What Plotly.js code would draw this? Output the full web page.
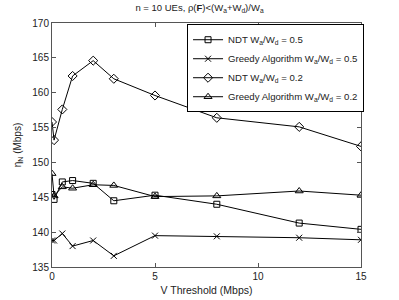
<!DOCTYPE html>
<html><head><meta charset="utf-8">
<script src="https://cdn.plot.ly/plotly-3.0.1.min.js"></script>
<style>html,body{margin:0;padding:0;background:#fff}#c{width:399px;height:300px}</style>
</head><body><div id="c"></div>
<script>
var vThreshold = [0, 0.1, 0.5, 1, 2, 3, 5, 8, 12, 15];
var ndt05 = [145.4, 144.7, 147.2, 147.4, 147.0, 144.5, 145.3, 144.0, 141.3, 140.4];
var greedy05 = [138.8, 138.8, 139.8, 138.0, 138.8, 136.6, 139.5, 139.4, 139.2, 138.9];
var ndt02 = [155.8, 153.2, 157.6, 162.4, 164.6, 162.0, 159.6, 156.4, 155.1, 152.3];
var greedy02 = [148.4, 145.2, 146.5, 146.3, 146.8, 146.7, 145.1, 145.2, 145.9, 145.3];
var seriesNames = ['NDT W<sub>a</sub>/W<sub>d</sub> = 0.5',
  'Greedy Algorithm W<sub>a</sub>/W<sub>d</sub> = 0.5',
  'NDT W<sub>a</sub>/W<sub>d</sub> = 0.2',
  'Greedy Algorithm W<sub>a</sub>/W<sub>d</sub> = 0.2'];
var xTicks = [0, 5, 10, 15];
var yTicks = [135, 140, 145, 150, 155, 160, 165, 170];

var symbols = ['square-open', 'x-thin-open', 'diamond-open', 'triangle-up-open'];
var sizes = [6, 6, 7, 7];
var ys = [ndt05, greedy05, ndt02, greedy02];
var traces = ys.map(function (y, i) {
  return {
    x: vThreshold, y: y, name: seriesNames[i], type: 'scatter', mode: 'lines+markers',
    line: {color: '#000', width: 1},
    marker: {symbol: symbols[i], size: sizes[i], color: '#000', line: {color: '#000', width: 1}}
  };
});
var fam = 'Liberation Sans, Arial, sans-serif';
var font = {family: fam, size: 10, color: '#222'};
var axisCommon = {
  showline: true, linecolor: '#555', linewidth: 1, mirror: 'allticks',
  ticks: 'inside', ticklen: 4, tickcolor: '#555', showgrid: false, zeroline: false,
  tickfont: font
};
var layout = {
  width: 399, height: 300,
  margin: {l: 52, r: 38, t: 23, b: 33},
  paper_bgcolor: '#fff', plot_bgcolor: '#fff',
  font: font,
  showlegend: true,
  title: {text: 'n = 10 UEs, ρ(<b>F</b>)<(W<sub>a</sub>+W<sub>d</sub>)/W<sub>a</sub>',
    font: {family: fam, size: 9.5, color: '#222'},
    x: 0.5, xanchor: 'center', y: 0.975, yanchor: 'middle'},
  xaxis: Object.assign({}, axisCommon, {
    range: [0, 15], tickvals: xTicks,
    title: {text: 'V Threshold (Mbps)', font: {family: fam, size: 10.5, color: '#222'}, standoff: 5}
  }),
  yaxis: Object.assign({}, axisCommon, {
    range: [135, 170], tickvals: yTicks,
    title: {text: 'η<sub>N</sub> (Mbps)', font: {family: fam, size: 10, color: '#222'}, standoff: 8}
  }),
  legend: {
    x: 0.437, y: 0.995, xanchor: 'left', yanchor: 'top',
    bgcolor: '#fff', bordercolor: '#000', borderwidth: 1,
    font: {family: fam, size: 9.6, color: '#222'},
    tracegroupgap: 0, itemwidth: 30
  }
};
Plotly.newPlot('c', traces, layout, {staticPlot: true, displayModeBar: false});
</script></body></html>
